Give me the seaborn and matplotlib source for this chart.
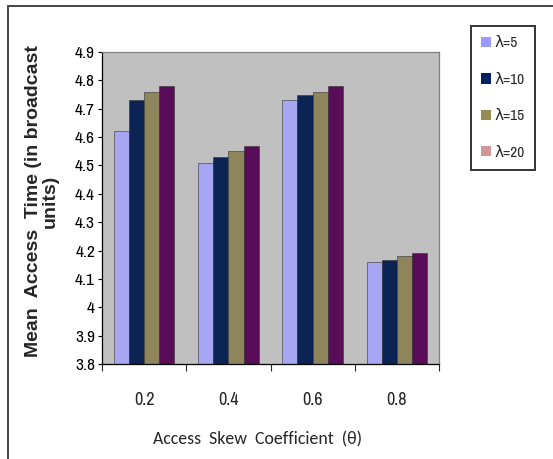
import matplotlib
matplotlib.use("Agg")
import matplotlib.pyplot as plt
from matplotlib.lines import Line2D
from matplotlib.patches import Patch
import seaborn as sns
import pandas as pd

# Data
categories = ["0.2", "0.4", "0.6", "0.8"]
series_names = ["λ=5", "λ=10", "λ=15", "λ=20"]
lam5 = [4.62, 4.51, 4.73, 4.16]
lam10 = [4.73, 4.53, 4.75, 4.167]
lam15 = [4.76, 4.55, 4.76, 4.18]
lam20 = [4.78, 4.57, 4.78, 4.19]
y_ticks = [3.8, 3.9, 4.0, 4.1, 4.2, 4.3, 4.4, 4.5, 4.6, 4.7, 4.8, 4.9]
y_tick_labels = ["3.8", "3.9", "4", "4.1", "4.2", "4.3", "4.4", "4.5", "4.6", "4.7", "4.8", "4.9"]

bar_colors = ["#9999FF", "#00205F", "#968B52", "#660066"]
legend_colors = ["#9999FF", "#00205F", "#968B52", "#D09797"]

rows = []
for name, vals in zip(series_names, [lam5, lam10, lam15, lam20]):
    for c, v in zip(categories, vals):
        rows.append({"theta": c, "series": name, "value": v})
df = pd.DataFrame(rows)

sns.set_theme(style="white")
narrow = ["Archivo Narrow", "DejaVu Sans"]
plt.rcParams["font.family"] = narrow

fig = plt.figure(figsize=(5.53, 4.59), dpi=100)
ax = fig.add_axes([102 / 553, 1 - 364 / 459, (439 - 102) / 553, (364 - 52) / 459])

sns.barplot(data=df, x="theta", y="value", hue="series", order=categories,
            hue_order=series_names, palette=bar_colors, width=0.72,
            edgecolor="#333333", linewidth=0.4, ax=ax, legend=False)

ax.set_facecolor("#C0C0C0")
ax.set_ylim(3.8, 4.9)
ax.set_xlim(-0.5, 3.5)
ax.set_yticks(y_ticks)
ax.set_yticklabels(y_tick_labels, fontsize=12.5)
ax.tick_params(axis="y", direction="out", length=3, width=0.8, pad=2, colors="black", left=True)

# Category labels centred, tick marks on category boundaries
ax.set_xticks(range(len(categories)))
ax.set_xticklabels(categories, fontsize=13)
ax.tick_params(axis="x", which="major", length=0, pad=20)
ax.set_xticks([-0.5, 0.5, 1.5, 2.5, 3.5], minor=True)
ax.tick_params(axis="x", which="minor", direction="out", length=5, width=0.8, bottom=True)

for s in ["left", "bottom"]:
    ax.spines[s].set_color("black")
    ax.spines[s].set_linewidth(0.9)
for s in ["top", "right"]:
    ax.spines[s].set_color("#808080")
    ax.spines[s].set_linewidth(0.9)

ax.set_xlabel("Access  Skew  Coefficient  (θ)", fontsize=12.8,
              family=["Carlito", "DejaVu Sans"])
ax.xaxis.label.set_va("center")
ax.xaxis.set_label_coords(0.46, -0.24)

ax.set_ylabel("Mean  Access  Time (in broadcast\nunits)", fontsize=14,
              fontweight="bold", family=["Liberation Sans", "DejaVu Sans"],
              linespacing=1.0)
ax.yaxis.label.set_va("center")
ax.yaxis.set_label_coords(-0.178, 0.522)

handles = [Patch(facecolor=c, edgecolor="none") for c in legend_colors]
leg = fig.legend(handles, series_names, loc="upper left",
                 bbox_to_anchor=(471 / 553, 1 - 26 / 459), fontsize=11,
                 frameon=True, fancybox=False, handlelength=0.65, handleheight=0.65,
                 handletextpad=0.2, labelspacing=1.47, borderpad=0.68,
                 borderaxespad=0)
leg.get_frame().set_edgecolor("black")
leg.get_frame().set_linewidth(1.4)

# Outer frame lines (top and left)
fig.add_artist(Line2D([8 / 553, 1.0], [1 - 6 / 459, 1 - 6 / 459], color="#444444", lw=1.4))
fig.add_artist(Line2D([8 / 553, 8 / 553], [1 - 6 / 459, 0.0], color="#444444", lw=1.4))

fig.savefig("out.png", dpi=100)
